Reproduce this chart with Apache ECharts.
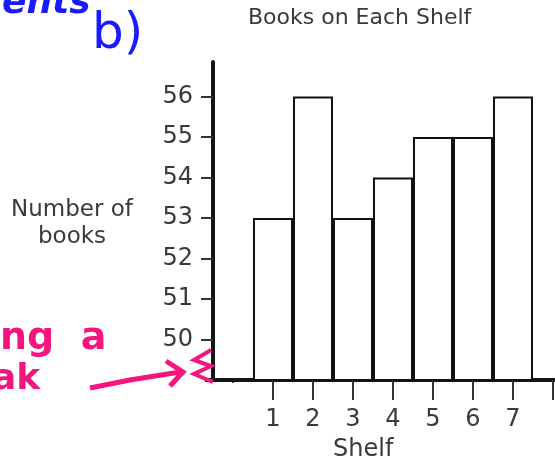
<!DOCTYPE html>
<html><head><meta charset="utf-8">
<script src="https://cdn.jsdelivr.net/npm/echarts@6/dist/echarts.min.js"></script>
<style>html,body{margin:0;padding:0;background:#fff}#c{width:555px;height:463px}</style>
</head><body><div id="c"></div>
<script>
const title = 'Books on Each Shelf';
const xName = 'Shelf';
const yName = 'Number of\nbooks';
const shelves = ['1', '2', '3', '4', '5', '6', '7'];
const books = [53, 56, 53, 54, 55, 55, 56];
const yMin = 49, yMax = 56.85;
const yLabelsShown = [50, 51, 52, 53, 54, 55, 56];

const axisData = [''].concat(shelves, ['']);
const barData = ['-'].concat(books, ['-']);
const font = 'DejaVu Sans';
const txt = '#3a3a3a';

const chart = echarts.init(document.getElementById('c'));
chart.setOption({
  animation: false,
  grid: { left: 213, width: 360, top: 62, bottom: 83, outerBoundsMode: 'none', containLabel: false },
  xAxis: {
    type: 'category', data: axisData, boundaryGap: true,
    axisLine: { lineStyle: { color: '#151515', width: 4 } },
    axisTick: { show: true, alignWithLabel: true, interval: 0, length: 20, lineStyle: { color: '#333', width: 2 } },
    axisLabel: { interval: 0, margin: 28, fontSize: 24, color: txt, fontFamily: font }
  },
  yAxis: {
    type: 'value', min: yMin, max: yMax,
    splitLine: { show: false },
    axisLine: { show: true, lineStyle: { color: '#151515', width: 4 } },
    axisTick: { show: true, length: 12, customValues: yLabelsShown, lineStyle: { color: '#333', width: 2 } },
    axisLabel: { margin: 20, fontSize: 24, color: txt, fontFamily: font, customValues: yLabelsShown }
  },
  series: [{
    type: 'bar', data: barData, barCategoryGap: '0%',
    itemStyle: { color: '#fff', borderColor: '#111', borderWidth: 2 }
  }],
  graphic: [
    { type: 'text', left: 248, top: 7, style: { text: title, fontSize: 22, fill: txt, fontFamily: font } },
    { type: 'text', left: 333, top: 438, style: { text: xName, fontSize: 24, fill: txt, fontFamily: font } },
    { type: 'text', x: 72, y: 197, style: { text: yName, fontSize: 23, fill: txt, fontFamily: font, align: 'center', verticalAlign: 'top', lineHeight: 27 } },
    { type: 'rect', shape: { x: 226, y: 383, width: 14, height: 22 }, style: { fill: '#fff' }, z: 100 },
    { type: 'polyline', shape: { points: [[205, 380], [250, 380]] }, style: { stroke: '#151515', lineWidth: 4 }, z: 101 },
    { type: 'text', left: 2, top: -14, style: { text: 'ents', fontSize: 36, fontWeight: 'bold', fontStyle: 'italic', fill: '#1a1aff', fontFamily: font } },
    { type: 'text', left: 92, top: 10, style: { text: 'b)', fontSize: 50, fill: '#1a1aff', fontFamily: font } },
    { type: 'text', left: 0, top: 320, style: { text: 'ng  a', fontSize: 38, fontWeight: 'bold', fill: '#f5157f', fontFamily: font } },
    { type: 'text', left: -8, top: 362, style: { text: 'ak', fontSize: 36, fontWeight: 'bold', fill: '#f5157f', fontFamily: font } },
    { type: 'polyline', shape: { points: [[90, 388], [130, 380], [180, 372]] }, style: { stroke: '#f5157f', lineWidth: 5, fill: null } },
    { type: 'polyline', shape: { points: [[166, 361], [183, 372], [170, 386]] }, style: { stroke: '#f5157f', lineWidth: 5, fill: null } },
    { type: 'polyline', shape: { points: [[211, 350], [194, 360], [211, 366], [194, 374], [213, 382]] }, style: { stroke: '#f5157f', lineWidth: 4, fill: null }, z: 102 }
  ]
});
</script></body></html>
